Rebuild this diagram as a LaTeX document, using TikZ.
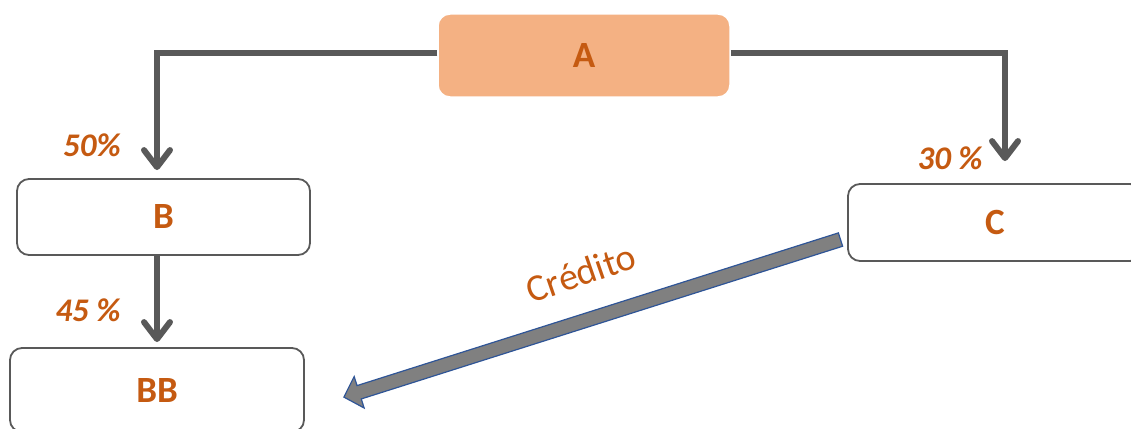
\documentclass[tikz,border=0pt]{standalone}
\usepackage{fontspec}
\setmainfont{Carlito}
\usetikzlibrary{arrows.meta,calc}
\definecolor{accent}{HTML}{C55A11}
\definecolor{boxfill}{HTML}{F4B183}
\definecolor{linegray}{HTML}{595959}
\definecolor{shaftgray}{HTML}{808080}
\definecolor{edgeblue}{HTML}{2F5597}
\begin{document}
\begin{tikzpicture}[x=1pt,y=1pt,
  box/.style={draw=linegray, line width=1.8pt, rounded corners=12pt, fill=white,
    text=accent, font=\fontsize{37}{40}\selectfont\bfseries, inner sep=0pt},
  topbox/.style={box, fill=boxfill, draw=white, line width=1.5pt},
  pct/.style={text=accent, font=\fontsize{33}{35}\selectfont\bfseries\itshape, inner sep=0pt},
  flow/.style={draw=linegray, line width=6pt,
    -{Straight Barb[length=17pt,width=26pt,line cap=round,line join=round]}},
  creditarrow/.style={fill=shaftgray, draw=edgeblue, line width=1.2pt, line join=miter},
]
\useasboundingbox (0,0) rectangle (1131,-428);
\clip (0,0) rectangle (1131,-428);

% boxes
\node[topbox, minimum width=292pt, minimum height=83pt] (A) at (584,-55.5) {A};
\node[box, minimum width=293pt, minimum height=76pt] (B) at (163.5,-217) {B};
\node[box, minimum width=294pt, minimum height=77pt] (C) at (995,-222.5) {C};
\node[box, minimum width=294pt, minimum height=84pt] (BB) at (157,-390) {BB};

% arrow end points
\coordinate (bIn) at ($(B.north -| BB.north)+(0,8)$);
\coordinate (cIn) at ($(C.north)+(10,22)$);
\coordinate (bbIn) at ($(BB.north)+(0,5)$);

% flow connectors
\draw[flow] ([yshift=2pt]A.west) -| (bIn);
\draw[flow] ([yshift=2pt]A.east) -| (cIn);
\draw[flow] (B.south -| BB.north) -- (bbIn);

% percentages
\node[pct] (p50) at (92,-145) {50\%};
\node[pct] (p30) at (950,-158) {30 \%};
\node[pct] (p45) at (88,-310) {45 \%};

% block arrow from C towards BB
\coordinate (credTip) at ($(BB.north east)+(39,-50)$);
\coordinate (credTail) at ($(C.west)+(-8,-18)$);
\begin{scope}[shift={(credTip)}, rotate=17.6]
  \draw[creditarrow] (0,0) -- (16,16.5) -- (16,7) -- (521,7) -- (521,-7)
    -- (16,-7) -- (16,-16.5) -- cycle;
\end{scope}
\node[rotate=19, text=accent, font=\fontsize{38}{40}\selectfont, inner sep=0pt]
  (cred) at (581,-273) {Crédito};
\end{tikzpicture}
\end{document}
